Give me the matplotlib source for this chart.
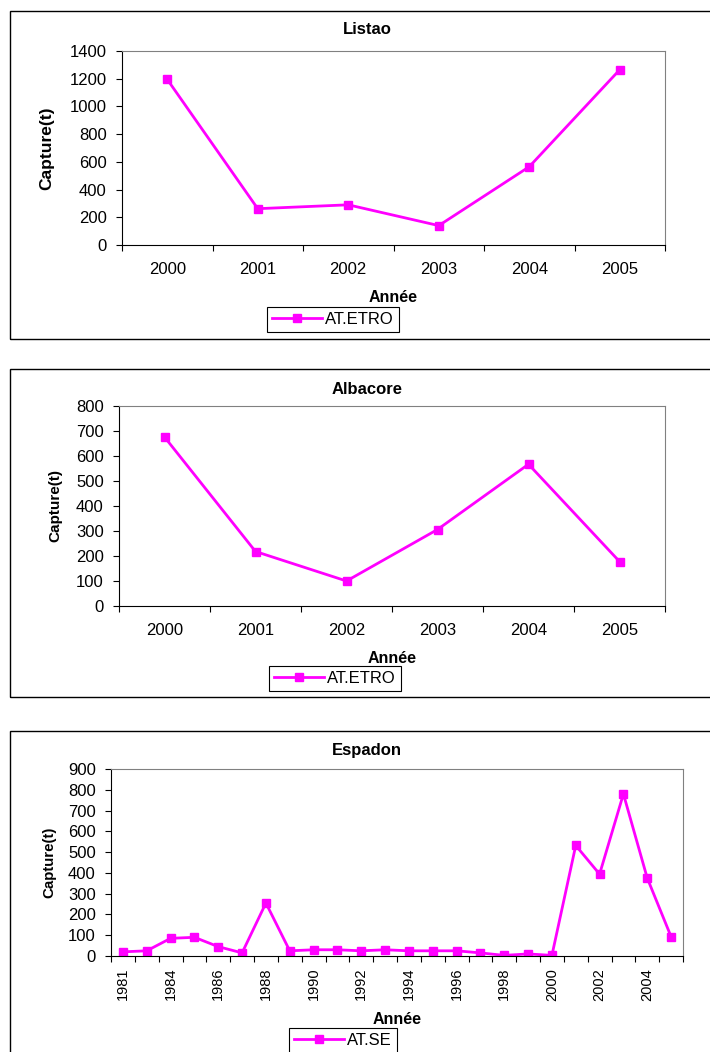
import matplotlib.pyplot as plt
from matplotlib.patches import Rectangle

plt.rcParams['font.family'] = ['Liberation Sans', 'DejaVu Sans']

# donnees
listao_years = ['2000', '2001', '2002', '2003', '2004', '2005']
listao_vals = [1195, 262, 290, 140, 565, 1265]

albacore_years = ['2000', '2001', '2002', '2003', '2004', '2005']
albacore_vals = [676, 218, 100, 306, 567, 178]

espadon_years = ['1981', '1983', '1984', '1985', '1986', '1987', '1988', '1989',
                 '1990', '1991', '1992', '1993', '1994', '1995', '1996', '1997',
                 '1998', '1999', '2000', '2001', '2002', '2003', '2004', '2005']
espadon_vals = [20, 25, 85, 90, 45, 15, 255, 25, 30, 30, 25, 30, 25, 25, 25,
                15, 3, 10, 3, 532, 394, 780, 375, 93]

W, H = 710, 1052
MAG = '#FF00FF'
FS = 12

fig = plt.figure(figsize=(W / 100, H / 100), dpi=100)


def fx(x):
    return x / W


def fy(y):
    return 1 - y / H


def panel(box, plot, title, title_y, years, vals, ymax, ystep, label_every,
          rotate, xpad, ylab_x, ylab_fs, xlab_y, leg_xy, leg_name):
    # cadre du graphique
    bx0, by0, bx1, by1 = box
    fig.add_artist(Rectangle((fx(bx0), fy(by1)), fx(bx1) - fx(bx0), fy(by0) - fy(by1),
                             transform=fig.transFigure, fill=False,
                             edgecolor='black', linewidth=1.0))
    l, t, r, b = plot
    ax = fig.add_axes([fx(l), fy(b), fx(r) - fx(l), fy(t) - fy(b)])
    n = len(vals)
    ax.plot(range(n), vals, color=MAG, linewidth=2.0, marker='s',
            markersize=5.5, label=leg_name)
    ax.set_xlim(-0.5, n - 0.5)
    ax.set_ylim(0, ymax)
    ax.set_yticks(range(0, ymax + 1, ystep))
    ax.set_xticks([i - 0.5 for i in range(n + 1)])
    ax.set_xticklabels([])
    idx = list(range(0, n, label_every))
    ax.set_xticks(idx, minor=True)
    ax.set_xticklabels([years[i] for i in idx], minor=True,
                       rotation=90 if rotate else 0,
                       fontsize=10.5 if rotate else FS)
    ax.tick_params(axis='x', which='major', direction='out', length=4, width=0.8)
    ax.tick_params(axis='x', which='minor', length=0, pad=xpad)
    ax.tick_params(axis='y', direction='out', length=4, width=0.8, pad=7,
                   labelsize=FS)
    for s in ['top', 'right']:
        ax.spines[s].set_color('#808080')
    for s in ['left', 'bottom']:
        ax.spines[s].set_color('black')
    ax.spines['left'].set_linewidth(0.8)
    ax.spines['bottom'].set_linewidth(0.8)

    fig.text(fx(367), fy(title_y), title, ha='center', va='center',
             fontsize=FS, fontweight='bold')
    ax.set_ylabel('Capture(t)', fontsize=ylab_fs, fontweight='bold')
    ax.yaxis.set_label_coords(fx(ylab_x), (fy(t) + fy(b)) / 2,
                              transform=fig.transFigure)
    ax.set_xlabel('Année', fontsize=11.5, fontweight='bold')
    ax.xaxis.set_label_coords((fx(l) + fx(r)) / 2, fy(xlab_y),
                              transform=fig.transFigure)
    leg = ax.legend(loc='upper left', bbox_to_anchor=(fx(leg_xy[0]), fy(leg_xy[1])),
                    bbox_transform=fig.transFigure, frameon=True, fancybox=False,
                    edgecolor='black', framealpha=1, fontsize=FS, numpoints=1,
                    handlelength=3.0, handletextpad=0.2, borderpad=0.3,
                    borderaxespad=0)
    leg.get_frame().set_linewidth(0.8)
    return ax


panel((10, 11, 722, 339), (122, 51, 665, 245), 'Listao', 30,
      listao_years, listao_vals, 1400, 200, 1, False, 12.5, 54, 12.5, 290,
      (267, 307), 'AT.ETRO')

panel((10, 369, 722, 697), (119, 406, 665, 606), 'Albacore', 389,
      albacore_years, albacore_vals, 800, 100, 1, False, 12, 62, 11, 651,
      (269, 666), 'AT.ETRO')

panel((10, 731, 722, 1060), (111, 769, 683, 956), 'Espadon', 750,
      espadon_years, espadon_vals, 900, 100, 2, True, 8.5, 56, 10.8, 1012,
      (289, 1028), 'AT.SE')

fig.savefig('out.png', dpi=100)
